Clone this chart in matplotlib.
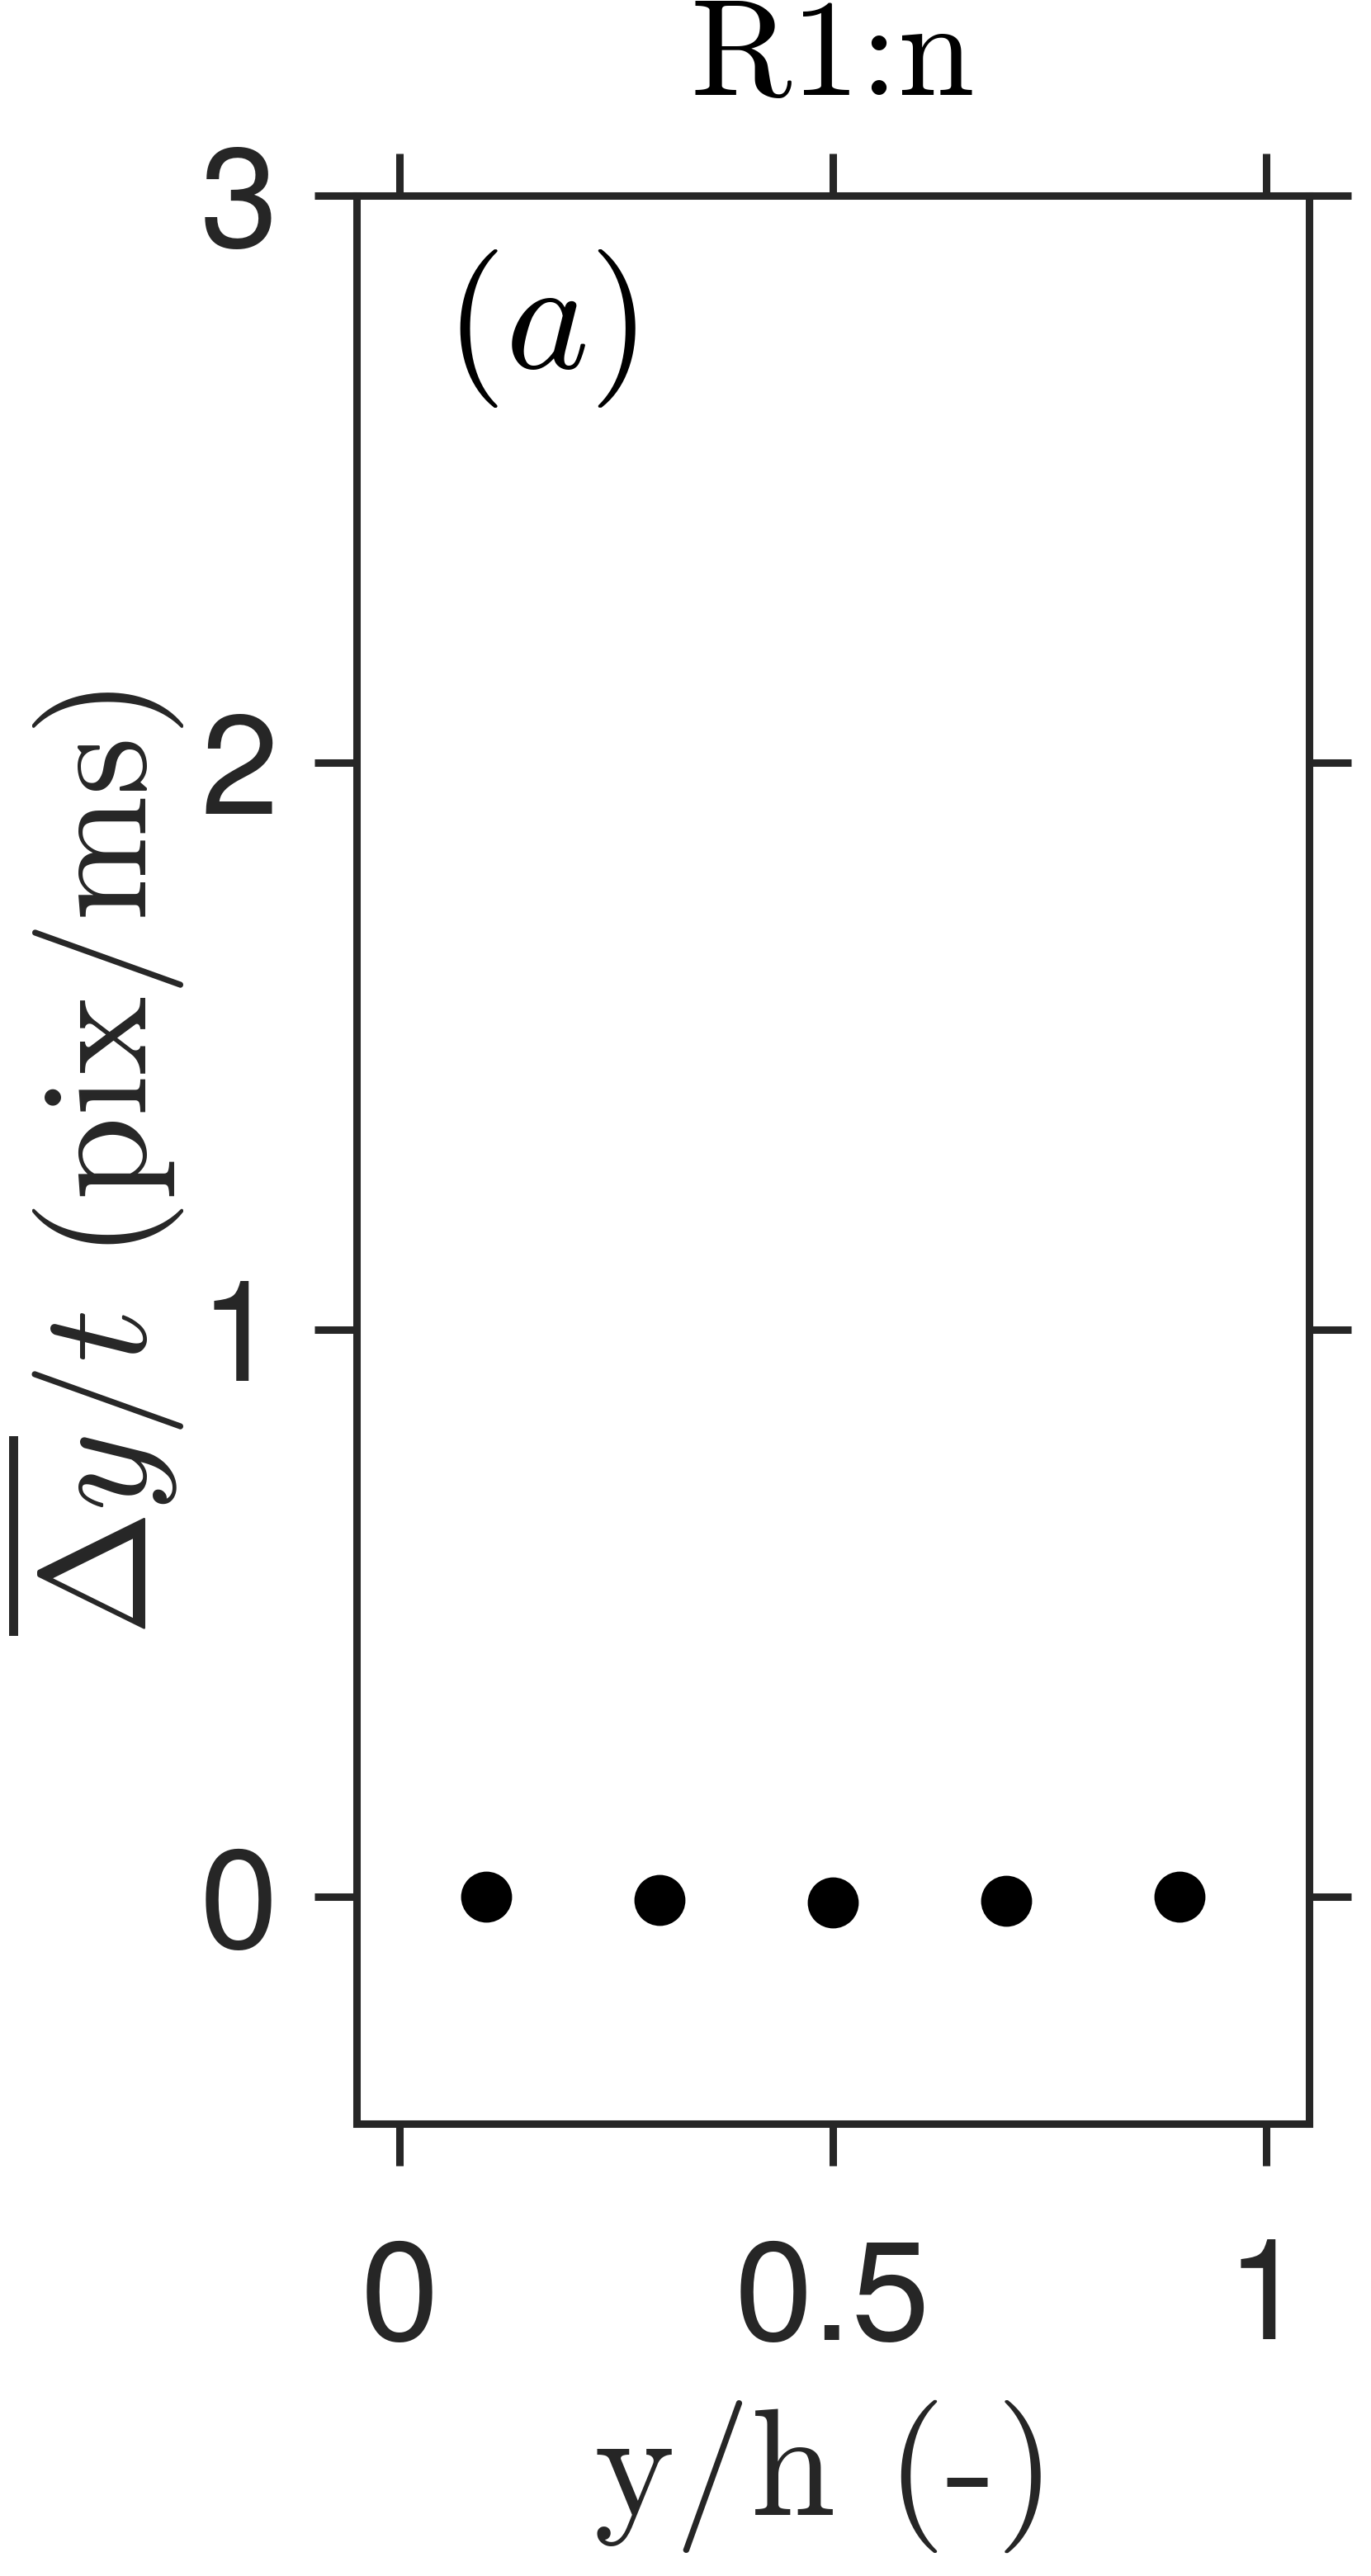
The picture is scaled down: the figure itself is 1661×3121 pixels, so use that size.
import matplotlib
matplotlib.use("Agg")
import matplotlib.pyplot as plt

# ---- data ----
x_pos = [0.1, 0.3, 0.5, 0.7, 0.9]
dy_rate = [0.0, -0.005, -0.01, -0.007, 0.0]
x_ticks = [0, 0.5, 1]
x_ticklabels = ["0", "0.5", "1"]
y_ticks = [0, 1, 2, 3]
y_ticklabels = ["0", "1", "2", "3"]
title_text = "R1:n"
panel_text = r"$\mathit{(a)}$"
xlabel_text = "y/h (-)"
ylabel_text = r"$\overline{\Delta y}/t$ (pix/ms)"

tick_font = ["TeX Gyre Heros", "Liberation Sans", "DejaVu Sans"]
plt.rcParams["font.family"] = tick_font
plt.rcParams["mathtext.fontset"] = "cm"
plt.rcParams["axes.unicode_minus"] = False

DPI = 100
fig = plt.figure(figsize=(16.61, 31.21), dpi=DPI)
W, H = 1661, 3121
left, right, top, bottom = 431.5, 1586, 237, 2573
ax = fig.add_axes([left / W, 1 - bottom / H, (right - left) / W, (bottom - top) / H])

dark = "#262626"
ax.plot(x_pos, dy_rate, linestyle="none", marker="o", markersize=44.5,
        color="black", markeredgewidth=0, clip_on=False)

ax.set_xlim(-0.05, 1.05)
ax.set_ylim(-0.4, 3)
ax.set_xticks(x_ticks)
ax.set_xticklabels(x_ticklabels, fontfamily=tick_font)
ax.set_yticks(y_ticks)
ax.set_yticklabels(y_ticklabels, fontfamily=tick_font)

for sp in ax.spines.values():
    sp.set_linewidth(6.5)
    sp.set_color(dark)

ax.tick_params(axis="both", which="major", direction="out", length=37, width=6.5,
               color=dark, labelcolor=dark, top=True, right=True,
               labeltop=False, labelright=False, labelsize=123)
ax.tick_params(axis="x", pad=62)
ax.tick_params(axis="y", pad=31)

# title
ax.text(0.5, (bottom - 115) / (bottom - top), title_text, transform=ax.transAxes,
        ha="center", va="baseline", fontsize=120, family="cmr10", color="black")

# panel label
ax.text(0.1936, 0.931, panel_text, transform=ax.transAxes, ha="center", va="center",
        fontsize=138, color="black")

# x label
ax.set_xlabel(xlabel_text, fontsize=133, family="cmr10", color=dark)
ax.xaxis.label.set_va("baseline")
ax.xaxis.set_label_coords(0.4916, (bottom - 3047) / (bottom - top))

# y label
ax.set_ylabel(ylabel_text, fontsize=131, family="cmr10", color=dark)
ax.yaxis.label.set_va("center")
ax.yaxis.set_label_coords((113 - left) / (right - left), 0.498)

fig.savefig("out.png", dpi=DPI, facecolor="white")
